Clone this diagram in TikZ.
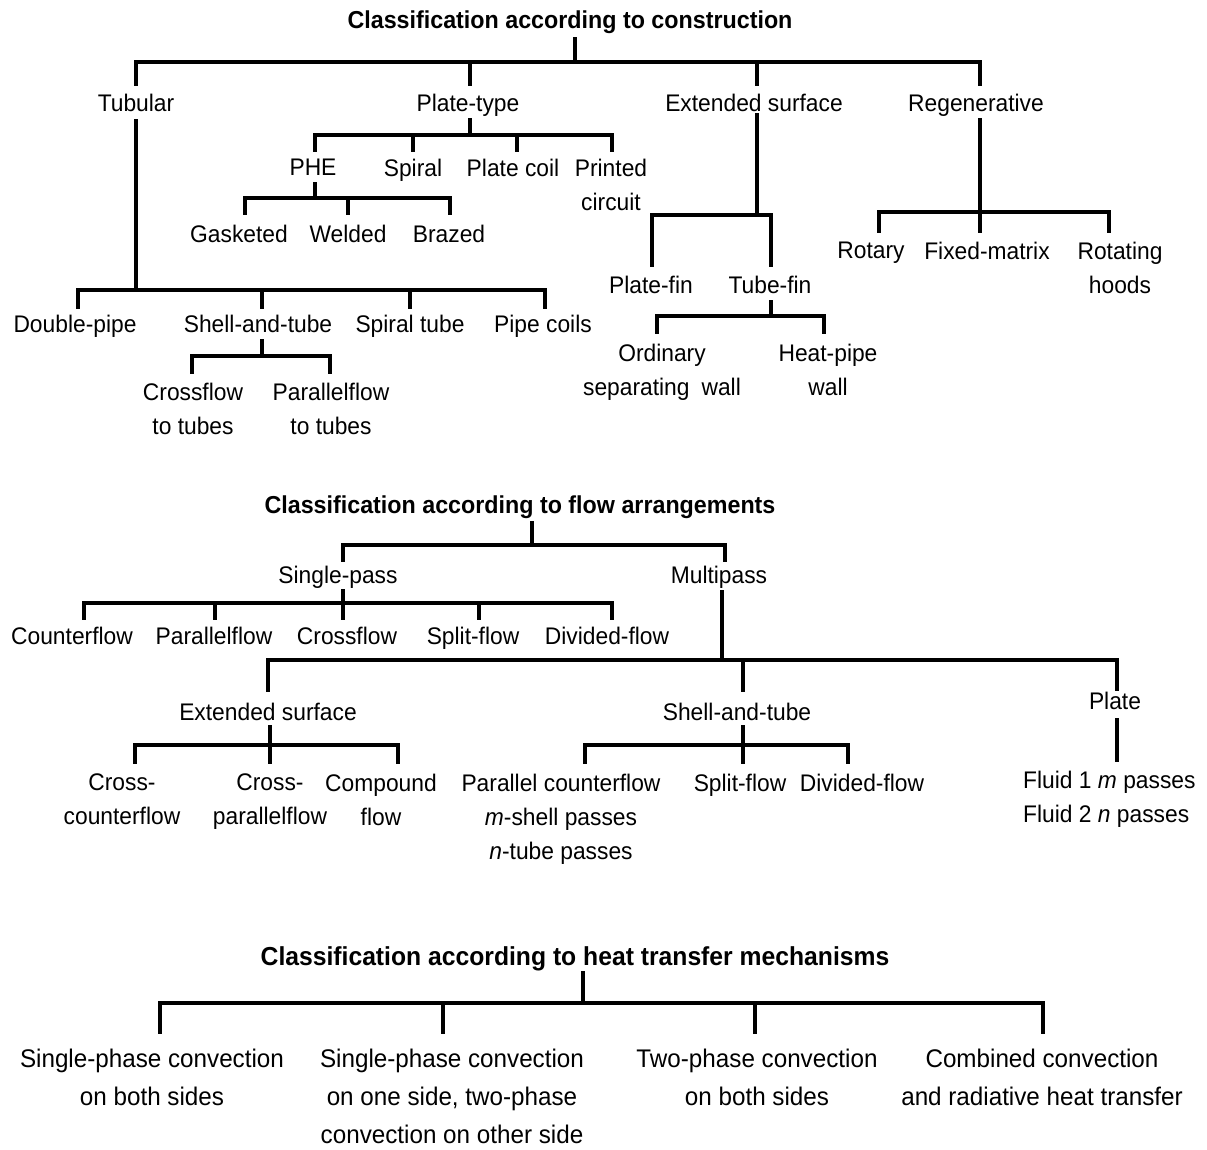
\documentclass[tikz,border=0pt]{standalone}
\usepackage{fontspec}
\setmainfont[FakeStretch=0.95]{Liberation Sans}
\usetikzlibrary{calc}
\begin{document}
\begin{tikzpicture}[x=1pt,y=-1pt,
  lbl/.style={font=\fontsize{24}{34}\selectfont,inner sep=0pt,anchor=north,align=center},
  lblw/.style={font=\fontsize{25.5}{38}\selectfont,inner sep=0pt,anchor=north,align=center},
  ttl/.style={font=\bfseries\fontsize{24.5}{30}\selectfont,inner sep=0pt,anchor=north},
  ttlw/.style={font=\bfseries\fontsize{26}{30}\selectfont,inner sep=0pt,anchor=north},
  br/.style={line width=3.5pt,line cap=rect,line join=miter}]
\fill[white] (0,0) rectangle (1207,1149);
\useasboundingbox (0,0) rectangle (1207,1149);

% ================= construction =================
\node[ttl] (c1) at (570,11) {Classification according to construction};
\node[lbl] (tub) at (136,94) {Tubular};
\node[lbl] (pla) at (468,94) {Plate-type};
\node[lbl] (ext) at (754,94) {Extended surface};
\node[lbl] (reg) at (976,94) {Regenerative};
\draw[br] (c1.south -| 575,0) ++(0,4) -- (575,62);
\draw[br] (136,62) -- (980,62);
\foreach \n/\x in {tub/136,pla/470,ext/757,reg/980}
  \draw[br,shorten >=10pt] (\x,62) -- (\n.north -| \x,0);

% Plate-type
\node[lbl] (phe) at (313,159) {PHE};
\node[lbl] (spi) at (413,159) {Spiral};
\node[lbl] (plc) at (513,159) {Plate coil};
\node[lbl] (pri) at (611,159) {Printed\\circuit};
\draw[br] (pla.south -| 470,0) ++(0,3) -- (470,135);
\draw[br] (315,135) -- (612,135);
\foreach \n/\x in {phe/315,spi/413,plc/517,pri/612}
  \draw[br,shorten >=9pt] (\x,135) -- (\n.north -| \x,0);

% PHE
\node[lbl] (gas) at (239,225) {Gasketed};
\node[lbl] (wel) at (348,225) {Welded};
\node[lbl] (bra) at (449,225) {Brazed};
\draw[br] (phe.south -| 315,0) ++(0,8) -- (315,198);
\draw[br] (245,198) -- (450,198);
\foreach \n/\x in {gas/245,wel/348,bra/450}
  \draw[br,shorten >=12pt] (\x,198) -- (\n.north -| \x,0);

% Tubular
\node[lbl] (dp) at (75,315) {Double-pipe};
\node[lbl] (sat) at (258,315) {Shell-and-tube};
\node[lbl] (spt) at (410,315) {Spiral tube};
\node[lbl] (pc) at (543,315) {Pipe coils};
\draw[br] (tub.south -| 136,0) ++(0,9) -- (136,290);
\draw[br] (78,290) -- (545,290);
\foreach \n/\x in {dp/78,sat/262,spt/410,pc/545}
  \draw[br,shorten >=8pt] (\x,290) -- (\n.north -| \x,0);

% Shell-and-tube
\node[lbl] (cft) at (193,383) {Crossflow\\to tubes};
\node[lbl] (pft) at (331,383) {Parallelflow\\to tubes};
\draw[br] (sat.south -| 262,0) ++(0,8) -- (262,356);
\draw[br] (192,356) -- (330,356);
\foreach \n/\x in {cft/192,pft/330}
  \draw[br,shorten >=11pt] (\x,356) -- (\n.north -| \x,0);

% Extended surface
\node[lbl] (pfin) at (651,276) {Plate-fin};
\node[lbl] (tfin) at (770,276) {Tube-fin};
\draw[br] (ext.south -| 757,0) ++(0,3) -- (757,215);
\draw[br] (652,215) -- (771,215);
\foreach \n/\x in {pfin/652,tfin/771}
  \draw[br,shorten >=11pt] (\x,215) -- (\n.north -| \x,0);

% Tube-fin
\node[lbl] (ord) at (662,344) {Ordinary\\separating\enspace wall};
\node[lbl] (hpw) at (828,344) {Heat-pipe\\wall};
\draw[br] (tfin.south -| 771,0) ++(0,8) -- (771,316);
\draw[br] (657,316) -- (824,316);
\foreach \n/\x in {ord/657,hpw/824}
  \draw[br,shorten >=12pt] (\x,316) -- (\n.north -| \x,0);

% Regenerative
\node[lbl] (rot) at (871,242) {Rotary};
\node[lbl] (fix) at (987,242) {Fixed-matrix};
\node[lbl] (roh) at (1120,242) {Rotating\\hoods};
\draw[br] (reg.south -| 980,0) ++(0,3) -- (980,212);
\draw[br] (879,212) -- (1109,212);
\foreach \n/\x in {rot/879,fix/980,roh/1109}
  \draw[br,shorten >=11pt] (\x,212) -- (\n.north -| \x,0);

% ================= flow arrangements =================
\node[ttl] (c2) at (520,496) {Classification according to flow arrangements};
\node[lbl] (sp) at (338,566) {Single-pass};
\node[lbl] (mp) at (719,566) {Multipass};
\draw[br] (c2.south -| 532,0) ++(0,3) -- (532,545);
\draw[br] (343,545) -- (725,545);
\foreach \n/\x in {sp/343,mp/725}
  \draw[br,shorten >=6pt] (\x,545) -- (\n.north -| \x,0);

% Single-pass
\node[lbl] (cnt) at (72,627) {Counterflow};
\node[lbl] (par) at (214,627) {Parallelflow};
\node[lbl] (crs) at (347,627) {Crossflow};
\node[lbl] (spl) at (473,627) {Split-flow};
\node[lbl] (div) at (607,627) {Divided-flow};
\draw[br] (sp.south -| 343,0) ++(0,2) -- (343,603);
\draw[br] (84,603) -- (612,603);
\foreach \n/\x in {cnt/84,par/215,crs/343,spl/479,div/612}
  \draw[br,shorten >=9pt] (\x,603) -- (\n.north -| \x,0);

% Multipass
\node[lbl] (es2) at (268,703) {Extended surface};
\node[lbl] (st2) at (737,703) {Shell-and-tube};
\node[lbl] (plt) at (1115,692) {Plate};
\draw[br] (mp.south -| 722,0) ++(0,3) -- (722,660);
\draw[br] (268,660) -- (1117,660);
\foreach \n/\x in {es2/268,st2/743}
  \draw[br,shorten >=13pt] (\x,660) -- (\n.north -| \x,0);
\draw[br,shorten >=3pt] (1117,660) -- (plt.north -| 1117,0);

% Extended surface (flow)
\node[lbl] (xcc) at (122,774) {Cross-\\counterflow};
\node[lbl] (xcp) at (270,774) {Cross-\\parallelflow};
\node[lbl] (cpf) at (381,774) {Compound\\flow};
\draw[br] (es2.south -| 270,0) ++(0,6) -- (270,745);
\draw[br] (135,745) -- (398,745);
\foreach \n/\x in {xcc/135,xcp/270,cpf/398}
  \draw[br,shorten >=12pt] (\x,745) -- (\n.north -| \x,0);

% Shell-and-tube (flow)
\node[lbl] (pcf) at (561,774) {Parallel counterflow\\\textit{m}-shell passes\\\textit{n}-tube passes};
\node[lbl] (sf2) at (740,774) {Split-flow};
\node[lbl] (df2) at (862,774) {Divided-flow};
\draw[br] (st2.south -| 743,0) ++(0,6) -- (743,745);
\draw[br] (585,745) -- (848,745);
\foreach \n/\x in {pcf/585,sf2/743,df2/848}
  \draw[br,shorten >=12pt] (\x,745) -- (\n.north -| \x,0);

% Plate
\node[lbl,anchor=north west,align=left] (flu) at (1023,771) {Fluid 1 \textit{m} passes\\Fluid 2 \textit{n} passes};
\draw[br,shorten >=11pt] (plt.south -| 1117,0) ++(0,10) -- (flu.north -| 1117,0);

% ================= heat transfer mechanisms =================
\node[ttlw] (c3) at (575,946) {Classification according to heat transfer mechanisms};
\node[lblw] (h1) at (152,1049) {Single-phase convection\\on both sides};
\node[lblw] (h2) at (452,1049) {Single-phase convection\\on one side, two-phase\\convection on other side};
\node[lblw] (h3) at (757,1049) {Two-phase convection\\on both sides};
\node[lblw] (h4) at (1042,1049) {Combined convection\\and radiative heat transfer};
\draw[br] (c3.south -| 583,0) ++(0,2) -- (583,1003);
\draw[br] (160,1003) -- (1043,1003);
\foreach \n/\x in {h1/160,h2/443,h3/755,h4/1043}
  \draw[br,shorten >=17pt] (\x,1003) -- (\n.north -| \x,0);
\end{tikzpicture}
\end{document}
